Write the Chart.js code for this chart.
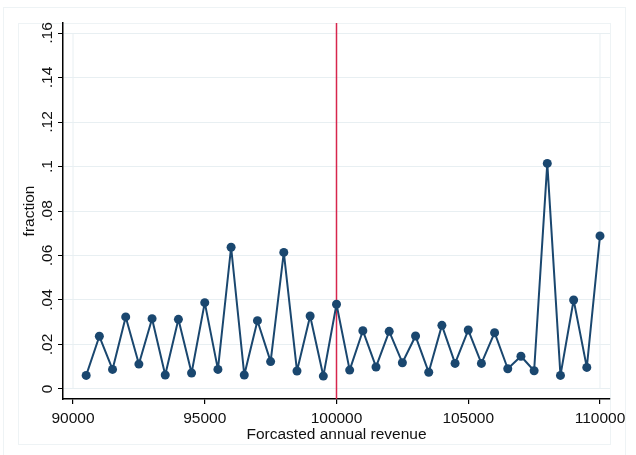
<!DOCTYPE html>
<html>
<head>
<meta charset="utf-8">
<script src="https://cdn.jsdelivr.net/npm/chart.js@4"></script>
<style>
  html, body { margin: 0; padding: 0; background: #fff; }
</style>
</head>
<body>
<canvas id="chart" width="636" height="455"></canvas>
<script>
// revenue bins and the share of firms in each
const revenue = [90500, 91000, 91500, 92000, 92500, 93000, 93500, 94000, 94500, 95000,
  95500, 96000, 96500, 97000, 97500, 98000, 98500, 99000, 99500, 100000,
  100500, 101000, 101500, 102000, 102500, 103000, 103500, 104000, 104500, 105000,
  105500, 106000, 106500, 107000, 107500, 108000, 108500, 109000, 109500, 110000];
const fraction = [0.0061, 0.0237, 0.0088, 0.0324, 0.0112, 0.0316, 0.0063, 0.0313, 0.0072, 0.0388,
  0.0088, 0.0637, 0.0063, 0.0307, 0.0123, 0.0614, 0.0081, 0.0328, 0.0058, 0.0381,
  0.0085, 0.0262, 0.0099, 0.0259, 0.0118, 0.0238, 0.0075, 0.0286, 0.0115, 0.0265,
  0.0115, 0.0253, 0.0091, 0.0147, 0.0082, 0.1014, 0.0061, 0.0400, 0.0097, 0.0688];

const xTicks = [90000, 95000, 100000, 105000, 110000];
const yTicks = [0, 0.02, 0.04, 0.06, 0.08, 0.1, 0.12, 0.14, 0.16];
const yTickLabels = ["0", ".02", ".04", ".06", ".08", ".1", ".12", ".14", ".16"];
const cutoff = 100000;

const navy = "#1a476f";
const faint = "#e8eff2";
const ink = "#111";
const font = { family: "'Liberation Sans', Arial, sans-serif", size: 15.5 };

// frames, plot region box and the cutoff line
const decor = {
  id: "decor",
  beforeDraw(chart) {
    const ctx = chart.ctx;
    ctx.save();
    ctx.strokeStyle = "#eef3f5";
    ctx.lineWidth = 1;
    ctx.strokeRect(3.5, 7.5, 622, 450);
    ctx.strokeRect(18.5, 23.5, 592, 421);
    ctx.restore();
  },
  beforeDatasetsDraw(chart) {
    const { ctx, chartArea, scales: { x, y } } = chart;
    ctx.save();
    const left = x.getPixelForValue(xTicks[0]);
    const right = x.getPixelForValue(xTicks[xTicks.length - 1]);
    const top = y.getPixelForValue(yTicks[yTicks.length - 1]);
    const bottom = y.getPixelForValue(yTicks[0]);
    ctx.strokeStyle = faint;
    ctx.lineWidth = 1;
    ctx.beginPath();
    ctx.moveTo(left, top); ctx.lineTo(left, bottom);
    ctx.moveTo(right, top); ctx.lineTo(right, bottom);
    ctx.stroke();
    const cx = x.getPixelForValue(cutoff);
    ctx.strokeStyle = "#d7264d";
    ctx.lineWidth = 1.5;
    ctx.beginPath();
    ctx.moveTo(cx, chartArea.top);
    ctx.lineTo(cx, chartArea.bottom);
    ctx.stroke();
    ctx.restore();
  }
};

new Chart(document.getElementById("chart"), {
  type: "line",
  data: {
    datasets: [{
      data: revenue.map((r, i) => ({ x: r, y: fraction[i] })),
      borderColor: navy,
      backgroundColor: navy,
      borderWidth: 2,
      borderJoinStyle: "round",
      pointRadius: 4.5,
      pointBackgroundColor: navy,
      pointBorderWidth: 0,
      tension: 0
    }]
  },
  options: {
    responsive: false,
    animation: false,
    devicePixelRatio: 1,
    layout: { padding: { left: 0, right: 26, top: 23, bottom: 0 } },
    plugins: { legend: { display: false }, tooltip: { enabled: false } },
    scales: {
      x: {
        type: "linear",
        min: 89620,
        max: 110380,
        afterBuildTicks: s => { s.ticks = xTicks.map(v => ({ value: v })); },
        afterFit: s => { s.height = 56; },
        grid: { drawOnChartArea: false, tickColor: "#000", tickLength: 5, lineWidth: 1.2 },
        border: { color: "#000", width: 1.5 },
        ticks: { color: ink, font, padding: 5, maxRotation: 0, callback: v => String(v) },
        title: { display: true, text: "Forcasted annual revenue", color: ink, font, padding: { top: 0, bottom: 11 } }
      },
      y: {
        min: -0.0045,
        max: 0.1645,
        afterBuildTicks: s => { s.ticks = yTicks.map(v => ({ value: v })); },
        afterFit: s => { s.width = 63; },
        grid: { color: faint, tickColor: "#000", tickLength: 5, lineWidth: 1 },
        border: { color: "#000", width: 1.5 },
        ticks: {
          color: ink, font, padding: 0, minRotation: 90, maxRotation: 90, crossAlign: "center",
          callback: v => yTickLabels[yTicks.indexOf(v)]
        },
        title: { display: true, text: "fraction", color: ink, font, padding: { top: 20, bottom: 0 } }
      }
    }
  },
  plugins: [decor]
});
</script>
</body>
</html>
